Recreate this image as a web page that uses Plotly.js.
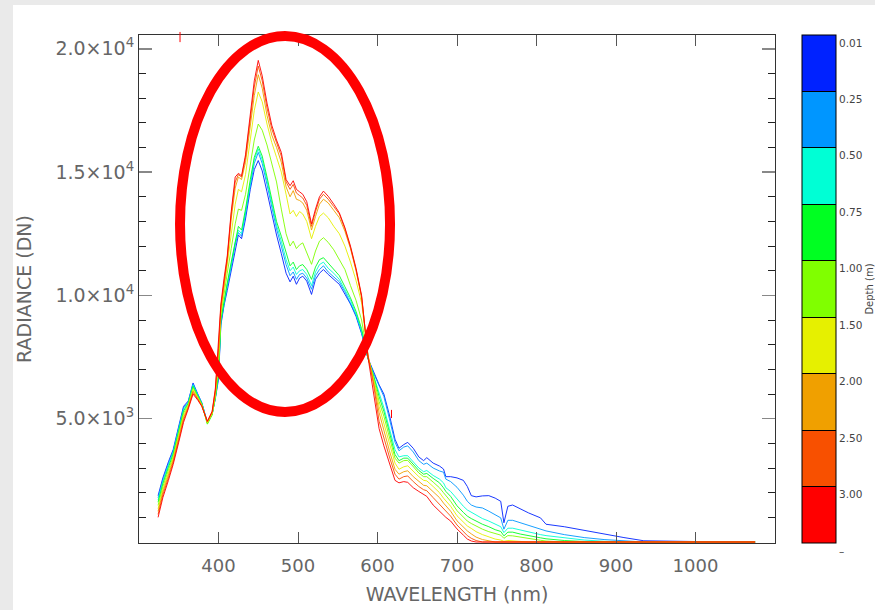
<!DOCTYPE html>
<html><head><meta charset="utf-8">
<script src="https://cdn.plot.ly/plotly-3.0.1.min.js"></script>
<style>
html,body{margin:0;padding:0;background:#eaeaea;width:875px;height:610px;overflow:hidden;}
#chart{position:absolute;left:13px;top:5px;width:862px;height:605px;background:#fff;}
</style></head><body>
<div id="chart"></div>
<script>
// Wavelength (nm)
const wavelength = [324,330,337,343,350,356,362,368,374,379,386,392,396,400,403,407,411,416,421,425,429,434,440,445,450,455,461,467,473,479,485,490,494,498,502,506,511,517,522,527,532,538,545,552,559,566,573,580,588,595,602,608,615,622,627,633,638,645,652,658,662,670,678,683,686,692,700,708,713,718,724,732,740,748,755,759,764,770,780,790,805,812,835,860,885,910,935,960,1000,1040,1075];

// Radiance (DN) for each depth
const d001 = [1880,2600,3250,3750,4700,5500,5720,6450,6000,5650,4850,5200,5800,6600,8800,9600,10200,11000,11900,12450,12300,13100,14300,15100,15470,15050,14200,13300,12450,11700,10900,10550,10780,10450,10700,10780,10580,10040,10650,10900,11050,10850,10650,10450,10050,9650,9150,8450,7450,6900,6380,6000,5150,4170,3800,3950,4040,3800,3450,3300,3420,3200,3080,2960,2650,2650,2600,2500,2250,1880,1830,1870,1880,1780,1650,780,1450,1500,1330,1180,980,720,620,470,300,180,50,30,20,0,0];
const d025 = [1790,2520,3175,3690,4635,5435,5690,6405,5975,5635,4840,5200,5850,6700,8900,9700,10350,11150,12050,12550,12400,13300,14500,15350,15800,15350,14500,13600,12700,12000,11250,10800,10950,10650,10850,10900,10700,10250,10800,11050,11200,10950,10750,10550,10150,9700,9200,8500,7450,6850,6300,5900,5000,4050,3700,3850,3900,3650,3300,3150,3200,3000,2880,2830,2550,2450,2220,1900,1650,1500,1420,1380,1250,1100,980,520,880,880,780,650,500,450,300,180,100,40,0,0,0,0,0];
const d050 = [1700,2440,3100,3630,4570,5370,5655,6360,5950,5620,4830,5180,5850,6800,9000,9800,10450,11250,12150,12650,12500,13400,14650,15500,15940,15500,14650,13750,12850,12200,11450,11000,11150,10850,11000,11050,10850,10400,10950,11250,11350,11100,10900,10650,10250,9800,9250,8550,7450,6750,6000,5450,4600,3750,3450,3500,3500,3250,3000,2850,2900,2700,2550,2400,2200,2050,1740,1450,1300,1200,1100,950,850,720,620,380,560,560,480,400,300,260,160,80,30,0,0,0,0,0,0];
const d075 = [1615,2360,3025,3570,4505,5305,5625,6315,5925,5605,4780,5150,5850,6800,9000,9850,10500,11350,12250,12800,12650,13500,14700,15600,16050,15650,14800,13900,13000,12400,11700,11200,11350,11050,11200,11250,11050,10650,11150,11450,11530,11300,11050,10800,10350,9900,9350,8650,7450,6750,5900,5300,4450,3550,3300,3400,3400,3150,2900,2750,2780,2580,2400,2200,2050,1850,1470,1200,1050,950,850,720,620,500,430,250,400,400,320,250,170,130,60,20,0,0,0,0,0,0,0];
const d100 = [1485,2240,2910,3480,4410,5210,5575,6250,5890,5580,4800,5180,5900,7100,9200,10100,10900,11900,12900,13500,13450,14100,15300,16300,16950,16700,16100,15300,14600,13500,12500,12000,12200,11900,12050,12130,11730,11260,11800,12200,12340,12150,11850,11450,11050,10400,9800,9000,7500,6650,5700,5100,4250,3400,3200,3300,3310,3050,2800,2650,2650,2430,2200,2000,1880,1650,1270,1000,850,750,650,520,420,330,280,150,260,250,190,130,70,40,0,0,0,0,0,0,0,0,0];
const d150 = [1350,2120,2800,3390,4310,5110,5530,6180,5850,5560,4830,5200,5950,7400,9300,10300,11200,12600,13700,14300,14200,14900,16300,17500,18250,17850,16950,16200,15600,15000,14100,13300,13450,13200,13400,13300,13000,12300,12800,13200,13340,13150,12800,12500,12000,11350,10600,9700,7550,6600,5500,4800,4000,3200,2950,3050,3090,2850,2650,2500,2480,2250,2000,1780,1680,1450,1065,800,650,550,420,300,200,120,80,30,60,40,20,0,0,0,0,0,0,0,0,0,0,0,0];
const d200 = [1245,2025,2710,3320,4230,5030,5490,6125,5820,5540,4860,5240,6050,7700,9450,10500,11400,13100,14350,14800,14700,15400,16800,18100,18950,18400,17300,16500,16000,15400,14400,14000,14250,13900,13850,13750,13450,12650,13200,13700,13900,13750,13450,13150,12600,11900,11000,9900,7600,6500,5250,4500,3700,2950,2750,2850,2890,2650,2450,2300,2280,2050,1800,1580,1480,1250,860,600,450,330,200,100,40,0,0,0,0,0,0,0,0,0,0,0,0,0,0,0,0,0,0];
const d250 = [1120,1910,2605,3235,4140,4940,5445,6065,5785,5520,4880,5270,6150,7850,9550,10600,11500,13300,14600,14900,14800,15600,17150,18450,19300,18700,17600,16750,16200,15650,14600,14300,14500,14150,14050,13950,13650,12800,13400,13900,14100,13900,13600,13300,12700,11950,11050,9950,7550,6400,4900,4200,3450,2750,2550,2650,2680,2450,2250,2120,2080,1800,1530,1340,1250,1050,690,420,260,150,60,0,0,0,0,0,0,0,0,0,0,0,0,0,0,0,0,0,0,0,0];
const d300 = [1000,1800,2500,3150,4050,4850,5400,6000,5750,5500,4900,5300,6200,8000,9650,10700,11600,13400,14800,14950,14850,15700,17300,18700,19530,18900,17800,16900,16300,15800,14700,14450,14650,14300,14200,14100,13800,12900,13500,14000,14230,14020,13700,13350,12750,12000,11100,10000,7500,6000,4600,3900,3150,2500,2400,2450,2420,2200,2050,1950,1850,1500,1250,1080,1000,850,530,280,120,40,0,0,0,0,0,0,0,0,0,0,0,0,0,0,0,0,0,0,0,0,0];

const series = [d001,d025,d050,d075,d100,d150,d200,d250,d300];
const depthLabels = ['0.01','0.25','0.50','0.75','1.00','1.50','2.00','2.50','3.00'];
const depthColors = ['#0022ff','#0096ff','#00ffd5','#00ff22','#80ff00','#e6f000','#f0a000','#f85000','#ff0000'];

// axis ticks
const xTicks = [400,500,600,700,800,900,1000];
const yTickVals = [5000,10000,15000,20000];
const yTickText = ['5.0×10<sup>3</sup>','1.0×10<sup>4</sup>','1.5×10<sup>4</sup>','2.0×10<sup>4</sup>'];
const cbTickText = ['–','3.00','2.50','2.00','1.50','1.00','0.75','0.50','0.25','0.01'];

const traces = series.map((s,i)=>({
  type:'scatter', mode:'lines', x:wavelength, y:s, name:depthLabels[i],
  line:{color:depthColors[i], width:1}, opacity:0.9, hoverinfo:'skip', showlegend:false
}));

// colorbar (discrete)
const n = depthColors.length;
const cs = [];
for(let k=0;k<n;k++){
  const c = depthColors[n-1-k];
  cs.push([k/n,c]); cs.push([(k+1)/n,c]);
}
const cbVals = []; for(let k=0;k<=n;k++) cbVals.push(k);
traces.push({
  type:'scatter', mode:'markers', x:[null], y:[null], showlegend:false, hoverinfo:'skip',
  marker:{color:[0], cmin:0, cmax:n, colorscale:cs, showscale:true,
    colorbar:{x:1.0425, xanchor:'left', xpad:0, ypad:0, y:0.5, yanchor:'middle', len:1, lenmode:'fraction',
      thickness:34, thicknessmode:'pixels', outlinecolor:'#000', outlinewidth:1,
      tickmode:'array', tickvals:cbVals, ticktext:cbTickText, ticks:'inside', ticklen:34, tickcolor:'#000', tickwidth:1,
      ticklabelposition:'outside bottom',
      tickfont:{family:'DejaVu Sans', size:10.5, color:'#444'},
      title:{text:'Depth (m)', side:'right', font:{family:'DejaVu Sans', size:10, color:'#444'}}}}
});

const minorY = []; for(let v=1000; v<=20000; v+=1000){ if(v%5000) minorY.push(v); }

const axisFont = {family:'DejaVu Sans', size:18, color:'#666'};
const layout = {
  width:862, height:605,
  margin:{l:126, r:100, t:30, b:67, autoexpand:false},
  paper_bgcolor:'#ffffff', plot_bgcolor:'#ffffff',
  font:axisFont,
  xaxis:{range:[300,1100], tickmode:'array', tickvals:xTicks, ticks:'inside', ticklen:11, tickcolor:'#555', tickwidth:1,
    showline:true, linecolor:'#333', linewidth:1, mirror:'allticks', showgrid:false, zeroline:false,
    tickfont:axisFont, ticklabelstandoff:6,
    title:{text:'WAVELENGTH (nm)', font:{family:'DejaVu Sans', size:19, color:'#666'}, standoff:13}},
  yaxis:{range:[-40,20560], tickmode:'array', tickvals:yTickVals, ticktext:yTickText, ticks:'inside', ticklen:13, tickcolor:'#888', tickwidth:1.5,
    minor:{tickmode:'array', tickvals:minorY, ticks:'inside', ticklen:7, tickcolor:'#222', tickwidth:1, showgrid:false},
    showline:true, linecolor:'#333', linewidth:1, mirror:'allticks', showgrid:false, zeroline:false,
    tickfont:{family:'DejaVu Sans', size:19, color:'#666'},
    title:{text:'RADIANCE (DN)', font:{family:'DejaVu Sans', size:19, color:'#666'}, standoff:22}},
  shapes:[
    {type:'circle', xref:'paper', yref:'paper', x0:0.0645, x1:0.3947, y0:0.2579, y1:0.998, line:{color:'#ff0000', width:10}, layer:'above'},
    {type:'line', xref:'paper', yref:'paper', x0:0.0645, x1:0.0645, y0:0.986, y1:1.006, line:{color:'#ff0000', width:1}},
    {type:'line', xref:'paper', yref:'paper', x0:0.397, x1:0.397, y0:0.246, y1:0.262, line:{color:'#ff0000', width:1}}
  ]
};
Plotly.newPlot('chart', traces, layout, {displayModeBar:false, staticPlot:true});
</script></body></html>
